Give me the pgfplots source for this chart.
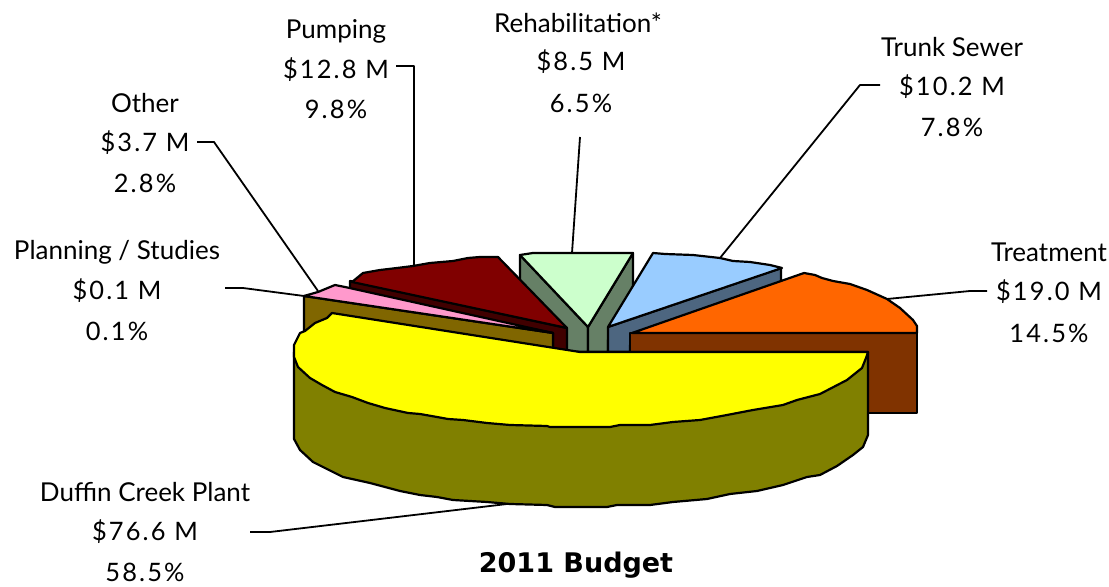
\documentclass[border=0pt]{standalone}
\usepackage{pgfplots}
\pgfplotsset{compat=1.18}
\usepackage{fontspec}
\setmainfont{Lato}
\newfontfamily\numfont[LetterSpace=8.5]{Lato}
\newfontfamily\titlefont{DejaVu Sans}
\definecolor{cOrange}{HTML}{FF6600}
\definecolor{cBrown}{HTML}{803300}
\definecolor{cBlue}{HTML}{99CCFF}
\definecolor{cBlueS}{HTML}{4D6680}
\definecolor{cGreen}{HTML}{CCFFCC}
\definecolor{cGreenS}{HTML}{668066}
\definecolor{cMaroon}{HTML}{800000}
\definecolor{cMaroonS}{HTML}{400000}
\definecolor{cPink}{HTML}{FF99CC}
\definecolor{cPinkS}{HTML}{806600}
\definecolor{cYellow}{HTML}{FFFF00}
\definecolor{cOlive}{HTML}{808000}
\begin{document}
\begin{tikzpicture}
\useasboundingbox (0,0) rectangle (554.5pt,293.5pt);
\begin{axis}[at={(0,0)},anchor=south west,scale only axis,width=554.5pt,height=293.5pt,
  xmin=0,xmax=1109,ymin=0,ymax=587,y dir=reverse,hide axis,clip=false,
  every axis plot/.append style={line width=1.1pt,line join=round,draw=black}]
% leaders
\addplot[line width=.9pt] coordinates {(396,66)(414,66)(414,266)};
\addplot[line width=.9pt] coordinates {(197,142)(214,142)(318,291)};
\addplot[line width=.9pt] coordinates {(225,288)(243,288)(304,296)};
\addplot[line width=.9pt] coordinates {(580,137)(572,253)};
\addplot[line width=.9pt] coordinates {(880,85)(860,85)(720,258)};
\addplot[line width=.9pt] coordinates {(987,291)(970,291)(887,299)};
\addplot[line width=.9pt] coordinates {(250,532)(270,532)(507,504)};
% rehabilitation
\addplot[fill=cGreenS] coordinates {(520,255)(588,327)(588,352)(567,352)(520,290)} --cycle;
\addplot[fill=cGreenS] coordinates {(633,253)(633,300)(608,340)(608,352)(588,352)(588,327)} --cycle;
\addplot[fill=cGreen] coordinates {(520,255)(533,253)(633,253)(588,327)} --cycle;
% trunk sewer
\addplot[fill=cBlueS] coordinates {(608,327)(781,268)(781,300)(630,345)(630,352)(608,352)} --cycle;
\addplot[fill=cBlue] coordinates {(608,327)(653,253)(665,254)(693,255)(720,258)(733,261)(750,262)(770,265)(782,268)} --cycle;
% treatment
\addplot[fill=cBrown] coordinates {(630,333)(917,333)(917,413)(630,413)} --cycle;
\addplot[fill=cOrange] coordinates {(632,333)(804,273)(815,275)(822,278)(833,281)(850,284)(867,290)(887,299)(900,308)(913,320)(917,326)(917,333)} --cycle;
% pumping
\addplot[fill=cMaroonS] coordinates {(350,281)(567,328)(567,352)(553,352)(553,333)(350,293)} --cycle;
\addplot[fill=cMaroon] coordinates {(352,282)(363,273)(380,270)(397,268)(413,266)(430,263)(453,261)(468,258)(480,257)(498,257)(567,328)} --cycle;
% planning + other
\addplot[fill=cPinkS] coordinates {(304,296)(553,333)(553,352)(304,352)} --cycle;
\addplot[fill=cPink] coordinates {(304,296)(318,292)(335,285)(345,287)(553,333)} --cycle;
% duffin
\addplot[fill=cOlive] coordinates {(294,352)(294,439)(300,450)(313,462)(343,477)(370,483)(400,491)(420,495)(437,497)(453,500)(487,502)(510,504)(547,505)(555,507)(607,507)(617,505)(650,505)(673,502)(707,499)(730,494)(757,491)(783,485)(807,477)(820,475)(837,466)(853,455)(863,447)(868,435)(868,352)} --cycle;
\addplot[fill=cYellow] coordinates {(580,352)(332,313)(327,318)(315,323)(305,331)(300,333)(294,345)(294,357)(298,367)(310,378)(322,385)(335,392)(352,397)(368,403)(385,408)(408,413)(420,414)(437,417)(448,419)(463,420)(487,423)(510,425)(547,426)(550,427)(610,427)(620,425)(650,425)(673,422)(700,420)(727,415)(753,410)(783,405)(797,400)(820,394)(847,380)(862,368)(866,358)(868,352)} --cycle;
% labels
\newcommand{\lab}[3]{\node[inner sep=0pt,font=\fontsize{13}{15}\selectfont] at (axis cs:#1,#2) {#3};}
\newcommand{\nab}[3]{\node[inner sep=0pt,font=\fontsize{12.7}{15}\selectfont\numfont] at (axis cs:#1,#2) {#3};}
\lab{336}{31}{Pumping}\nab{336}{70}{\$12.8 M}\nab{336}{109}{9.8\%}
\lab{578}{23}{Rehabilitation*}\nab{581}{62}{\$8.5 M}\nab{581}{103}{6.5\%}
\lab{952}{47}{Trunk Sewer}\nab{952}{87}{\$10.2 M}\nab{952}{127}{7.8\%}
\lab{145}{103}{Other}\nab{145}{143}{\$3.7 M}\nab{145}{183}{2.8\%}
\lab{117}{252}{Planning / Studies}\nab{117}{291}{\$0.1 M}\nab{117}{331}{0.1\%}
\lab{1049}{252}{Treatment}\nab{1049}{292}{\$19.0 M}\nab{1049}{333}{14.5\%}
\lab{145}{492}{Duffin Creek Plant}\nab{145}{532}{\$76.6 M}\nab{145}{572}{58.5\%}
\node[inner sep=0pt,font=\fontsize{13.5}{16}\selectfont\titlefont\bfseries] at (axis cs:576,565) {2011 Budget};
\end{axis}
\end{tikzpicture}
\end{document}
